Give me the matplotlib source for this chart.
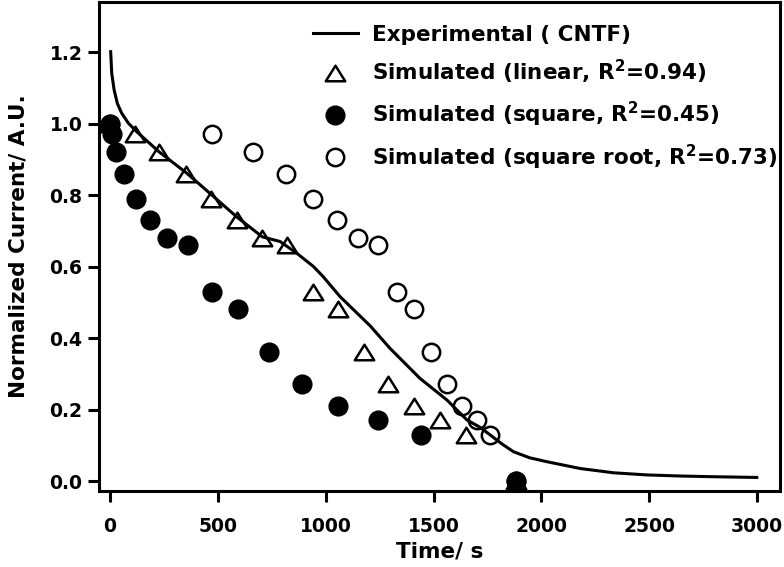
import numpy as np
import matplotlib
matplotlib.use('Agg')
from matplotlib import pyplot as plt
from matplotlib.path import Path

plt.rcParams['font.family'] = ['DejaVu Sans']
plt.rcParams['font.weight'] = 'bold'
plt.rcParams['mathtext.fontset'] = 'dejavusans'
plt.rcParams['mathtext.default'] = 'bf'

# experimental curve (CNTF)
t_exp = [3, 8, 19, 34, 54, 85, 124, 227, 356, 472, 587, 706, 788, 866, 943, 989,
         1066, 1206, 1298, 1437, 1561, 1654, 1716, 1762, 1816, 1870, 1945, 2025,
         2179, 2334, 2489, 2643, 2797, 2998]
i_exp = [1.201, 1.140, 1.094, 1.056, 1.029, 1.001, 0.977, 0.921, 0.861, 0.800,
         0.739, 0.683, 0.670, 0.637, 0.600, 0.571, 0.516, 0.434, 0.371, 0.287,
         0.227, 0.171, 0.150, 0.129, 0.104, 0.082, 0.065, 0.054, 0.035, 0.023,
         0.017, 0.014, 0.012, 0.010]

# simulated current levels (shared by all three models)
i_sim = [1.0, 0.97, 0.92, 0.86, 0.79, 0.73, 0.68, 0.66, 0.53, 0.48, 0.36, 0.27,
         0.21, 0.17, 0.13, 0.0]
t_linear = [0, 116, 227, 352, 468, 589, 705, 821, 943, 1059, 1175, 1289, 1411,
            1530, 1652, 1883]
t_square = [0, 9, 28, 65, 121, 185, 264, 362, 472, 595, 737, 889, 1058, 1244,
            1442, 1883]
t_sqrt = [0, 473, 663, 816, 941, 1052, 1150, 1242, 1332, 1411, 1488, 1561, 1631,
          1699, 1763, 1883]

labels = ['Experimental ( CNTF)',
          'Simulated (linear, R$^2$=0.94)',
          'Simulated (square, R$^2$=0.45)',
          'Simulated (square root, R$^2$=0.73)']

tri = Path([(0, 0.8), (-1, -0.8), (1, -0.8), (0, 0.8)],
           [Path.MOVETO, Path.LINETO, Path.LINETO, Path.CLOSEPOLY])

fig = plt.figure(figsize=(7.84, 5.67), dpi=100)
ax = fig.add_axes([0.1263, 0.134, 0.995 - 0.1263, 0.9965 - 0.134])

ln, = ax.plot(t_exp, i_exp, color='black', lw=2.2, zorder=2)
m1, = ax.plot(t_linear, i_sim, ls='none', marker=tri, ms=14, mfc='none',
              mec='black', mew=1.8, zorder=3)
m3, = ax.plot(t_sqrt, i_sim, ls='none', marker='o', ms=12.5, mfc='none',
              mec='black', mew=1.8, zorder=3)
m2, = ax.plot(t_square, i_sim, ls='none', marker='o', ms=13.5, mfc='black',
              mec='black', zorder=4)

ax.set_xlim(-51, 3106)
ax.set_ylim(-0.028, 1.34)
ax.set_xticks(np.arange(0, 3001, 500))
ax.set_yticks(np.arange(0, 1.21, 0.2))
ax.yaxis.set_major_formatter(matplotlib.ticker.FormatStrFormatter('%.1f'))

for s in ax.spines.values():
    s.set_linewidth(2.2)
ax.tick_params(axis='both', direction='out', length=8, width=2.2,
               labelsize=13.5, top=False, right=False)
ax.tick_params(axis='x', pad=11)
ax.tick_params(axis='y', pad=4)

ax.set_xlabel('Time/ s', fontsize=15.5, fontweight='bold', labelpad=4)
ax.set_ylabel('Normalized Current/ A.U.', fontsize=15.5, fontweight='bold',
              labelpad=15)

ax.legend([ln, m1, m2, m3], labels, loc='upper left',
          bbox_to_anchor=(0.399, 0.956), bbox_transform=fig.transFigure,
          frameon=False, borderpad=0, borderaxespad=0, handlelength=2.1,
          handletextpad=0.65, labelspacing=0.62,
          prop={'size': 15.5, 'weight': 'bold'})

plt.savefig('out.png', dpi=100)
